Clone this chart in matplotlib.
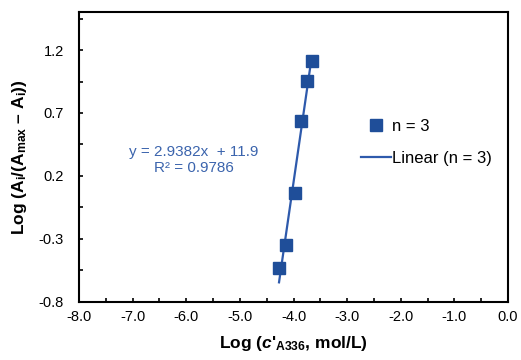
import numpy as np
import matplotlib
matplotlib.use("Agg")
import matplotlib.pyplot as plt
from matplotlib.ticker import MultipleLocator, FixedLocator, FormatStrFormatter

# data
log_c = [-4.270, -4.146, -3.966, -3.855, -3.743, -3.661]
log_ratio = [-0.530, -0.349, 0.062, 0.636, 0.954, 1.116]
slope = 2.9382
intercept = 11.9
r2 = 0.9786
x_ticks = [-8.0, -7.0, -6.0, -5.0, -4.0, -3.0, -2.0, -1.0, 0.0]
y_ticks = [-0.8, -0.3, 0.2, 0.7, 1.2]

plt.rcParams['font.family'] = ['Liberation Sans', 'DejaVu Sans']
plt.rcParams['mathtext.fontset'] = 'custom'
plt.rcParams['mathtext.rm'] = 'Liberation Sans:bold'
plt.rcParams['mathtext.it'] = 'Liberation Sans:bold:italic'
plt.rcParams['mathtext.bf'] = 'Liberation Sans:bold'

marker_col = '#1F4E99'
line_col = '#2E5AAC'
text_col = '#3B64AD'

fig = plt.figure(figsize=(5.21, 3.6), dpi=100)
ax = fig.add_axes([79 / 521, 1 - 301.7 / 360, (508 - 79) / 521, (301.7 - 12.3) / 360])

ax.plot(log_c, log_ratio, 's', color=marker_col, markersize=8, label='n = 3', zorder=3)
xf = np.array([min(log_c), max(log_c)])
ax.plot(xf, slope * xf + intercept, '-', color=line_col, linewidth=1.6,
        label='Linear (n = 3)', zorder=2)

ax.set_xlim(-8.0, 0.0)
ax.set_ylim(-0.8, 1.5)
ax.xaxis.set_major_locator(FixedLocator(x_ticks))
ax.xaxis.set_minor_locator(MultipleLocator(0.5))
ax.yaxis.set_major_locator(FixedLocator(y_ticks))
ax.yaxis.set_minor_locator(FixedLocator([-0.55, -0.05, 0.45, 0.95, 1.45]))
ax.xaxis.set_major_formatter(FormatStrFormatter('%.1f'))
ax.yaxis.set_major_formatter(FormatStrFormatter('%.1f'))
ax.tick_params(which='both', direction='in', length=3, width=1.2, labelsize=10.5,
               colors='black', top=False, right=False)
ax.tick_params(axis='x', pad=6)
ax.tick_params(axis='y', pad=11)
for s in ax.spines.values():
    s.set_linewidth(1.5)
    s.set_color('black')

ax.set_xlabel(r"Log ($c$'$_\mathrm{A336}$, mol/L)", fontsize=12.5, fontweight='bold', labelpad=7)
ax.set_ylabel(r"Log (A$_\mathrm{i}$/(A$_\mathrm{max}$ – A$_\mathrm{i}$))", fontsize=12.5,
              fontweight='bold', labelpad=7)

ax.text(-5.86, 0.36, f'y = {slope}x  + {intercept}', color=text_col, fontsize=11, ha='center')
ax.text(-5.86, 0.23, f'R² = {r2}', color=text_col, fontsize=11, ha='center')

ax.legend(loc='center left', bbox_to_anchor=(0.622, 0.55), frameon=False, fontsize=12,
          handlelength=1.8, handletextpad=0.05, labelspacing=1.0, markerscale=1.0)

fig.savefig('out.png', dpi=100)
